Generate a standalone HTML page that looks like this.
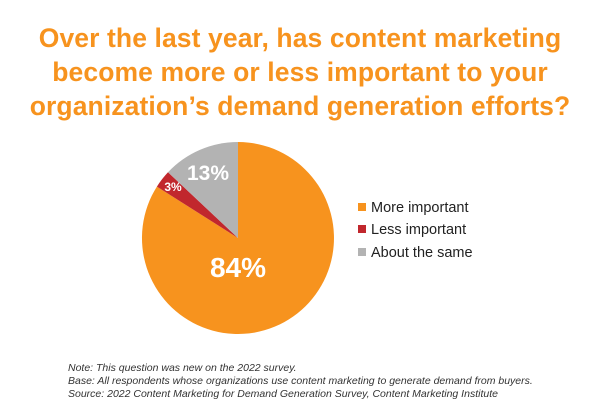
<!DOCTYPE html>
<html><head><style>
body{margin:0;width:600px;height:416px;background:#fff;font-family:"Liberation Sans",sans-serif;overflow:hidden;position:relative}
.t{position:absolute;left:0;width:600px;text-align:center;color:#f7931e;font-weight:bold;font-size:26.5px;line-height:34px;top:21px;letter-spacing:0.1px}
.n{position:absolute;left:68px;top:362px;font-style:italic;font-size:10.5px;line-height:13px;color:#333}
</style></head><body>
<div class="t">Over the last year, has content marketing<br>become more or less important to your<br>organization’s demand generation efforts?</div>
<svg width="600" height="416" style="position:absolute;left:0;top:0">
<path d="M238,238 L238,142 A96 96 0 1 1 156.9,186.6 Z" fill="#f7931e"/>
<path d="M238,238 L156.9,186.6 A96 96 0 0 1 168,172.3 Z" fill="#c1272d"/>
<path d="M238,238 L168,172.3 A96 96 0 0 1 238,142 Z" fill="#b3b3b3"/>
<g fill="#fff" font-family="Liberation Sans,sans-serif" font-weight="bold">
<text x="238" y="277" font-size="28" text-anchor="middle">84%</text>
<text x="208" y="180" font-size="21" text-anchor="middle">13%</text>
<text x="173" y="191" font-size="12" text-anchor="middle">3%</text>
</g>
<rect x="358" y="203" width="8" height="8" fill="#f7931e"/>
<rect x="358" y="225" width="8" height="8" fill="#c1272d"/>
<rect x="358" y="248" width="8" height="8" fill="#b3b3b3"/>
<g font-size="14.5" fill="#222" font-family="Liberation Sans,sans-serif">
<text x="371" y="212">More important</text>
<text x="371" y="234">Less important</text>
<text x="371" y="257">About the same</text>
</g>
</svg>
<div class="n">Note: This question was new on the 2022 survey.<br>Base: All respondents whose organizations use content marketing to generate demand from buyers.<br>Source: 2022 Content Marketing for Demand Generation Survey, Content Marketing Institute</div>
</body></html>
